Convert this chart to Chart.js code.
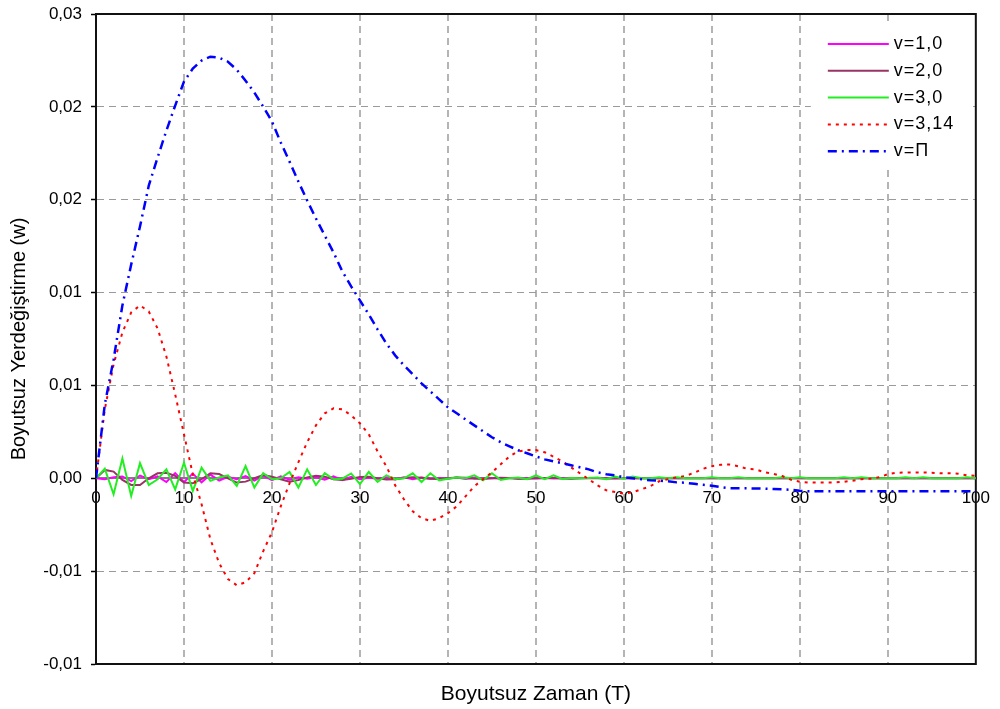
<!DOCTYPE html>
<html>
<head>
<meta charset="utf-8">
<script src="https://cdn.jsdelivr.net/npm/chart.js@4/dist/chart.umd.min.js"></script>
<style>
  html, body { margin: 0; padding: 0; background: #ffffff; }
  canvas { display: block; }
</style>
</head>
<body>
<canvas id="chart" width="1000" height="709"></canvas>
<script>
// Dimensionless time T
const timeT = [
  0, 1, 2, 3, 4, 5, 6, 7, 8, 9,
  10, 11, 12, 13, 14, 15, 16, 17, 18, 19,
  20, 21, 22, 23, 24, 25, 26, 27, 28, 29,
  30, 31, 32, 33, 34, 35, 36, 37, 38, 39,
  40, 41, 42, 43, 44, 45, 46, 47, 48, 49,
  50, 51, 52, 53, 54, 55, 56, 57, 58, 59,
  60, 61, 62, 63, 64, 65, 66, 67, 68, 69,
  70, 71, 72, 73, 74, 75, 76, 77, 78, 79,
  80, 81, 82, 83, 84, 85, 86, 87, 88, 89,
  90, 91, 92, 93, 94, 95, 96, 97, 98, 99,
  100
];

// Dimensionless displacement w for each speed parameter v
const wV10 = [
  0, -0.00005, 0.00005, 0.0001, -0.00015, 0.00015, -0.00005, 0.0001, -0.0002, 0.00028,
  -0.0002, 0.00025, -0.00022, 0.0002, -0.00012, 0.00008, -0.00005, 0.00012, -0.00012, 0.00015,
  -0.0001, 0.0001, -0.00008, 0.00005, -0.00003, 0.00006, -0.00008, 0.0001, -0.0001, 0.00008,
  -0.00005, 0.00003, -0.00003, 0.00005, -0.00006, 0.00006, -0.00005, 0.00004, -0.00002, 0.00002,
  -0.00003, 0.00004, -0.00004, 0.00003, -0.00002, 0.00002, -0.00002, 0.00002, -0.00002, 0.00002,
  -0.00001, 0.00001, -0.00001, 0.00001, -0.00001, 0.00001, 0, 0, 0, 0,
  0, 0, 0, 0, 0, 0, 0, 0, 0, 0,
  0, 0, 0, 0, 0, 0, 0, 0, 0, 0,
  0, 0, 0, 0, 0, 0, 0, 0, 0, 0,
  0, 0, 0, 0, 0, 0, 0, 0, 0, 0,
  0
];

const wV20 = [
  0, 0.00045, 0.00036, -0.00009, -0.00036, -0.00036, 0, 0.00027, 0.0003, 0.00013,
  -0.00023, -0.00027, -0.00005, 0.00027, 0.00023, 0, -0.00023, -0.00018, 0, 0.00018,
  0.00009, -0.00005, -0.00018, -0.00009, 0.00005, 0.00013, 0.00009, -0.00005, -0.00009, -0.00002,
  0.00007, 0.00008, 0, -0.00006, -0.00005, 0.00002, 0.00005, 0.00003, -0.00003, -0.00004,
  0, 0.00004, 0.00003, -0.00002, -0.00003, 0, 0.00003, 0.00002, -0.00002, -0.00002,
  0, 0.00002, 0.00002, -0.00001, -0.00002, 0, 0.00001, 0.00001, -0.00001, -0.00001,
  0, 0, 0, 0, 0, 0, 0, 0, 0, 0,
  0, 0, 0, 0, 0, 0, 0, 0, 0, 0,
  0, 0, 0, 0, 0, 0, 0, 0, 0, 0,
  0, 0, 0, 0, 0, 0, 0, 0, 0, 0,
  0
];

const wV30 = [
  0, 0.00052, -0.00086, 0.00106, -0.00095, 0.00081, -0.00036, -0.00005, 0.00048, -0.0006,
  0.00084, -0.00068, 0.00057, -0.00014, 0.00004, 0.00016, -0.00041, 0.00066, -0.0005, 0.00027,
  -0.00005, 0, 0.00034, -0.0005, 0.00048, -0.00036, 0.00028, -0.00005, -0.00002, 0.00026,
  -0.00031, 0.00034, -0.0002, 0.00016, -0.00005, 0, 0.00027, -0.0002, 0.00027, -0.00011,
  -0.00002, 0.00004, 0, 0.00016, -0.00011, 0.00027, -0.00009, 0, 0.00004, -0.00005,
  0.00016, -0.00005, 0.00016, -0.00004, 0.00002, 0, 0.00002, 0.00004, -0.00005, 0.00009,
  -0.00002, 0.00009, 0, 0, 0.00005, 0, 0.00005, 0, 0, 0,
  0.00005, 0, 0, 0.00005, 0, 0, 0, 0, 0.00005, 0,
  0.00005, 0, 0, 0, 0, 0.00005, 0, 0.00005, 0, 0,
  0, 0, 0.00005, 0, 0.00005, 0, 0, 0, 0, 0.00005,
  0
];

const wV314 = [
  0, 0.00371, 0.00613, 0.00785, 0.00893, 0.00931, 0.00898, 0.00807, 0.00656, 0.00452,
  0.00237, 0.00022, -0.0014, -0.00328, -0.00457, -0.00543, -0.00576, -0.0056, -0.00511, -0.00393,
  -0.0029, -0.00151, -0.00027, 0.00086, 0.00194, 0.00285, 0.0035, 0.00377, 0.00371, 0.00339,
  0.00296, 0.00237, 0.00145, 0.00065, -0.00038, -0.00113, -0.00178, -0.00215, -0.00229, -0.00215,
  -0.00188, -0.00151, -0.00097, -0.00043, -0.00005, 0.00032, 0.00075, 0.00118, 0.00145, 0.00152,
  0.00152, 0.0014, 0.00116, 0.00091, 0.00059, 0.00027, -0.00005, -0.00038, -0.00065, -0.00074,
  -0.00083, -0.00075, -0.00059, -0.00043, -0.00016, -0.00005, 0.00005, 0.00013, 0.0003, 0.00051,
  0.00065, 0.00073, 0.00074, 0.00065, 0.00051, 0.00048, 0.00032, 0.00024, 0.00012, -0.00008,
  -0.00019, -0.00023, -0.00023, -0.00023, -0.00022, -0.00019, -0.00013, -0.00005, -0.00002, 0.00005,
  0.00022, 0.0003, 0.00031, 0.00031, 0.00031, 0.0003, 0.00027, 0.00027, 0.00025, 0.00016,
  0.00013
];

const wVPi = [
  0, 0.00398, 0.0064, 0.00931, 0.01151, 0.01356, 0.01576, 0.01727, 0.01872, 0.02007,
  0.02136, 0.02206, 0.02249, 0.0227, 0.02265, 0.02243, 0.022, 0.02141, 0.02077, 0.02001,
  0.01921, 0.01808, 0.01705, 0.01598, 0.01496, 0.01399, 0.01307, 0.01216, 0.01114, 0.01033,
  0.00958, 0.00882, 0.00802, 0.00726, 0.00662, 0.00608, 0.0056, 0.00511, 0.00468, 0.00425,
  0.00382, 0.0035, 0.00317, 0.00285, 0.00253, 0.00221, 0.00194, 0.00172, 0.00151, 0.00135,
  0.00118, 0.00102, 0.00091, 0.00081, 0.0007, 0.00059, 0.00048, 0.00032, 0.00022, 0.00016,
  0.00005, 0, -0.00005, -0.00011, -0.00013, -0.00016, -0.00022, -0.00024, -0.0003, -0.00035,
  -0.0004, -0.00048, -0.00054, -0.00054, -0.00054, -0.00055, -0.00056, -0.00058, -0.00059, -0.00062,
  -0.00067, -0.0007, -0.0007, -0.0007, -0.0007, -0.0007, -0.0007, -0.0007, -0.0007, -0.0007,
  -0.0007, -0.0007, -0.0007, -0.0007, -0.0007, -0.0007, -0.0007, -0.0007, -0.0007, -0.0007,
  -0.0007
];

const seriesLabels = ['v=1,0', 'v=2,0', 'v=3,0', 'v=3,14', 'v=Π'];

// Y tick labels, two decimals with a decimal comma (bottom to top)
const yTickLabels = ['-0,01', '-0,01', '0,00', '0,01', '0,01', '0,02', '0,02', '0,03'];
const xTickValues = [0, 10, 20, 30, 40, 50, 60, 70, 80, 90, 100];

const FONT = 'Arial, "Liberation Sans", sans-serif';

function points(values) {
  return timeT.map((t, i) => ({ x: t, y: values[i] }));
}

// Solid frame around the plotting area
const plotFrame = {
  id: 'plotFrame',
  beforeDatasetsDraw(chart) {
    const { ctx, chartArea: a } = chart;
    ctx.save();
    ctx.strokeStyle = '#111111';
    ctx.lineWidth = 2;
    ctx.beginPath();
    ctx.moveTo(a.left, a.top);
    ctx.lineTo(a.right, a.top);
    ctx.lineTo(a.right, a.bottom);
    ctx.lineTo(a.left, a.bottom);
    ctx.stroke();
    ctx.restore();
  }
};

// Legend drawn inside the plot, top right, on a white panel
const insetLegend = {
  id: 'insetLegend',
  afterDraw(chart) {
    const { ctx, chartArea: a } = chart;
    const boxLeft = a.right - 165, boxTop = a.top + 8;
    ctx.save();
    ctx.fillStyle = '#ffffff';
    ctx.fillRect(boxLeft, boxTop, 159, 145);
    ctx.font = '18px ' + FONT;
    if ('letterSpacing' in ctx) ctx.letterSpacing = '1px';
    ctx.textBaseline = 'middle';
    ctx.textAlign = 'left';
    chart.data.datasets.forEach((d, i) => {
      const y = a.top + 30 + i * 26.8;
      ctx.beginPath();
      ctx.setLineDash(d.borderDash || []);
      ctx.lineWidth = d.borderWidth;
      ctx.strokeStyle = d.borderColor;
      ctx.moveTo(a.right - 148, y);
      ctx.lineTo(a.right - 87, y);
      ctx.stroke();
      ctx.setLineDash([]);
      ctx.fillStyle = '#000000';
      ctx.fillText(d.label, a.right - 82, y);
    });
    ctx.restore();
  }
};

new Chart(document.getElementById('chart'), {
  type: 'line',
  data: {
    datasets: [
      { label: seriesLabels[0], data: points(wV10), borderColor: '#ff00ff', borderWidth: 2, order: 5 },
      { label: seriesLabels[1], data: points(wV20), borderColor: '#993366', borderWidth: 2, order: 4 },
      { label: seriesLabels[2], data: points(wV30), borderColor: '#22ee22', borderWidth: 2, order: 3 },
      { label: seriesLabels[3], data: points(wV314), borderColor: '#ff0000', borderWidth: 2, borderDash: [3, 5], order: 2 },
      { label: seriesLabels[4], data: points(wVPi), borderColor: '#0000ff', borderWidth: 2.5, borderDash: [9, 5, 2, 5], order: 1 }
    ]
  },
  options: {
    responsive: false,
    animation: false,
    events: [],
    devicePixelRatio: 1,
    layout: { padding: { top: 14, right: 23, left: 0, bottom: 0 } },
    elements: {
      point: { radius: 0 },
      line: { tension: 0, fill: false }
    },
    plugins: {
      legend: { display: false },
      tooltip: { enabled: false }
    },
    scales: {
      x: {
        type: 'linear',
        position: { y: 0 },
        min: 0,
        max: 100,
        afterBuildTicks(scale) { scale.ticks = xTickValues.map(v => ({ value: v })); },
        ticks: {
          stepSize: 10,
          autoSkip: false,
          maxRotation: 0,
          padding: 10,
          color: '#000000',
          font: { family: FONT, size: 17 }
        },
        grid: {
          drawTicks: false,
          lineWidth: 2,
          color: (c) => (c.tick && (c.tick.value === 0 || c.tick.value === 100)) ? 'rgba(0,0,0,0)' : '#b4b4b4'
        },
        border: { display: true, color: '#808080', width: 2, dash: [7, 5] }
      },
      xTitle: {
        type: 'linear',
        position: 'bottom',
        min: 0,
        max: 100,
        afterFit(scale) { scale.height = 45; },
        ticks: { display: false },
        grid: { display: false, drawTicks: false },
        border: { display: false },
        title: {
          display: true,
          text: 'Boyutsuz Zaman (T)',
          color: '#000000',
          font: { family: FONT, size: 21 },
          padding: { top: 0, bottom: 2 }
        }
      },
      y: {
        type: 'linear',
        position: 'left',
        min: -0.01,
        max: 0.025,
        afterFit(scale) {
          scale.width = 96;
          scale.paddingTop = 0;
          scale.paddingBottom = 0;
        },
        ticks: {
          stepSize: 0.005,
          padding: 9,
          color: '#000000',
          font: { family: FONT, size: 17 },
          callback: (value, index) => yTickLabels[index]
        },
        grid: {
          drawTicks: true,
          tickLength: 5,
          tickColor: '#000000',
          tickWidth: 1.5,
          lineWidth: 1,
          color: '#9a9a9a'
        },
        border: { display: true, color: '#111111', width: 2, dash: [7, 5] },
        title: {
          display: true,
          text: 'Boyutsuz Yerdeğiştirme (w)',
          color: '#000000',
          font: { family: FONT, size: 20 },
          padding: { top: 7, bottom: 0 }
        }
      }
    }
  },
  plugins: [plotFrame, insetLegend]
});
</script>
</body>
</html>
